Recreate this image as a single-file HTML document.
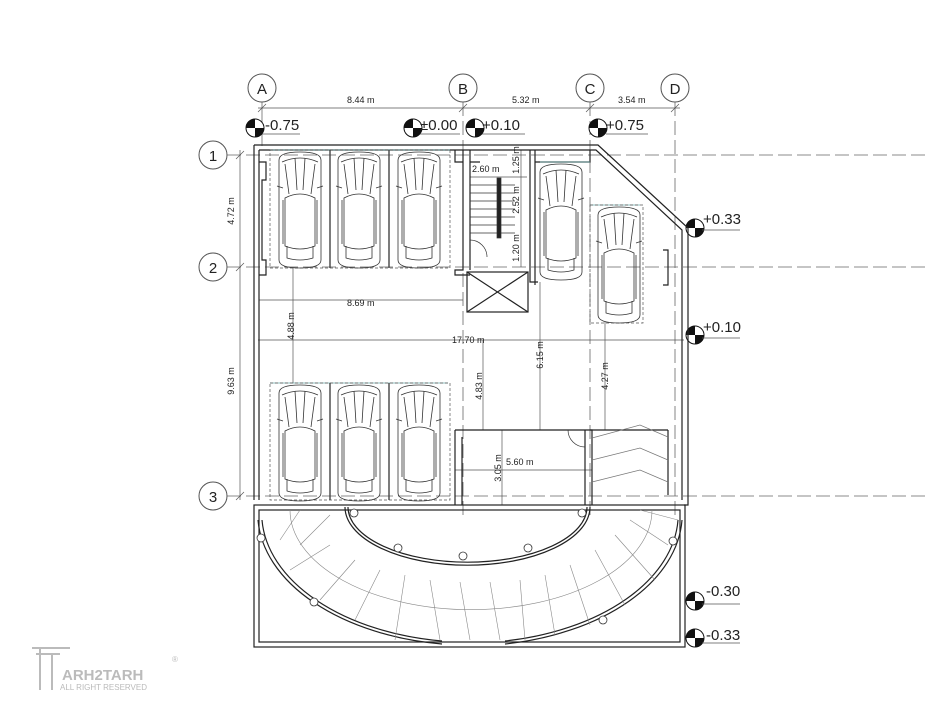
<!DOCTYPE html>
<html><head><meta charset="utf-8"><style>
html,body{margin:0;padding:0;background:#fff}
svg{display:block}
text{font-family:"Liberation Sans",sans-serif;fill:#222}
</style></head><body>
<svg width="932" height="720" viewBox="0 0 932 720" xmlns="http://www.w3.org/2000/svg">
<defs>
<g id="car" fill="none" stroke="#333" stroke-width="0.8">
<path d="M6,10 Q6,2 27,2 Q48,2 48,10 L48,110 Q48,118 27,118 Q6,118 6,110 Z"/>
<path d="M9,12 Q27,4 45,12"/>
<path d="M12,14 L16,44 M42,14 L38,44 M22,8 L24,40 M32,8 L30,40"/>
<path d="M12,48 Q27,40 42,48 L42,96 Q27,102 12,96 Z"/>
<path d="M14,96 L14,108 Q27,112 40,108 L40,96"/>
<path d="M4,36 L10,38 M50,36 L44,38"/>
<path d="M10,50 L10,94 M44,50 L44,94"/>
</g>
<g id="lvl">
<circle r="9" fill="#fff" stroke="#111" stroke-width="1"/>
<path d="M0,0 L0,-9 A9,9 0 0 0 -9,0 Z" fill="#111"/>
<path d="M0,0 L0,9 A9,9 0 0 0 9,0 Z" fill="#111"/>
</g>
</defs>

<!-- grid circles -->
<g fill="#fff" stroke="#555" stroke-width="1">
<circle cx="262" cy="88" r="14"/><circle cx="463" cy="88" r="14"/>
<circle cx="590" cy="88" r="14"/><circle cx="675" cy="88" r="14"/>
<circle cx="213" cy="155" r="14"/><circle cx="213" cy="267" r="14"/><circle cx="213" cy="496" r="14"/>
</g>
<g font-size="15" text-anchor="middle">
<text x="262" y="94">A</text><text x="463" y="94">B</text><text x="590" y="94">C</text><text x="675" y="94">D</text>
<text x="213" y="161">1</text><text x="213" y="273">2</text><text x="213" y="502">3</text>
</g>

<!-- grid lines -->
<g stroke="#666" stroke-width="0.8" stroke-dasharray="14,5" fill="none">
<line x1="227" y1="155" x2="930" y2="155"/>
<line x1="227" y1="267" x2="930" y2="267"/>
<line x1="227" y1="496" x2="930" y2="496"/>
<line x1="463" y1="102" x2="463" y2="520"/>
<line x1="590" y1="102" x2="590" y2="520"/>
<line x1="675" y1="102" x2="675" y2="520"/>
</g>

<!-- top dims -->
<g stroke="#555" stroke-width="0.7" fill="none">
<line x1="258" y1="108" x2="680" y2="108"/>
<line x1="262" y1="102" x2="262" y2="146"/>
<path d="M258,112 L266,104 M459,112 L467,104 M586,112 L594,104 M671,112 L679,104"/>
<line x1="240" y1="150" x2="240" y2="500"/>
<path d="M236,159 L244,151 M236,271 L244,263 M236,500 L244,492"/>
<line x1="258" y1="340" x2="684" y2="340"/>
<line x1="259" y1="300" x2="463" y2="300"/>
<line x1="293" y1="268" x2="293" y2="383"/>
<line x1="483" y1="340" x2="483" y2="430"/>
<line x1="540" y1="282" x2="540" y2="430"/>
<line x1="605" y1="322" x2="605" y2="430"/>
<line x1="502" y1="430" x2="502" y2="505"/>
<line x1="455" y1="470" x2="592" y2="470"/>
<line x1="521" y1="150" x2="521" y2="267"/>
<line x1="470" y1="177" x2="527" y2="177"/>
</g>
<g font-size="9">
<text x="347" y="103">8.44 m</text><text x="512" y="103">5.32 m</text><text x="618" y="103">3.54 m</text>
<text x="347" y="306">8.69 m</text><text x="452" y="343">17.70 m</text>
<text x="506" y="465">5.60 m</text><text x="472" y="172">2.60 m</text>
<g text-anchor="middle">
<text transform="translate(234,211) rotate(-90)">4.72 m</text>
<text transform="translate(234,381) rotate(-90)">9.63 m</text>
<text transform="translate(294,326) rotate(-90)">4.88 m</text>
<text transform="translate(482,386) rotate(-90)">4.83 m</text>
<text transform="translate(543,355) rotate(-90)">6.15 m</text>
<text transform="translate(608,376) rotate(-90)">4.27 m</text>
<text transform="translate(501,468) rotate(-90)">3.05 m</text>
<text transform="translate(519,160) rotate(-90)">1.25 m</text>
<text transform="translate(519,200) rotate(-90)">2.52 m</text>
<text transform="translate(519,248) rotate(-90)">1.20 m</text>
</g></g>

<!-- levels -->
<use href="#lvl" x="255" y="128"/><use href="#lvl" x="413" y="128"/><use href="#lvl" x="475" y="128"/><use href="#lvl" x="598" y="128"/>
<use href="#lvl" x="695" y="228"/><use href="#lvl" x="695" y="335"/><use href="#lvl" x="695" y="601"/><use href="#lvl" x="695" y="638"/>
<g font-size="15">
<text x="265" y="130">-0.75</text><text x="420" y="130">±0.00</text><text x="482" y="130">+0.10</text><text x="606" y="130">+0.75</text>
<text x="703" y="224">+0.33</text><text x="703" y="332">+0.10</text><text x="706" y="596">-0.30</text><text x="706" y="640">-0.33</text>
</g>
<g stroke="#555" stroke-width="0.7">
<line x1="262" y1="134" x2="300" y2="134"/><line x1="420" y1="134" x2="460" y2="134"/><line x1="482" y1="134" x2="525" y2="134"/><line x1="606" y1="134" x2="648" y2="134"/>
<line x1="702" y1="230" x2="740" y2="230"/><line x1="702" y1="338" x2="740" y2="338"/><line x1="702" y1="604" x2="740" y2="604"/><line x1="702" y1="643" x2="740" y2="643"/>
</g>

<!-- walls -->
<g fill="none" stroke="#222" stroke-width="1.2">
<path d="M254,145 L598,145 L688,228 L688,505 L684,505"/>
<path d="M259,150 L596,150 L682,230 L682,500"/>
<line x1="254" y1="145" x2="254" y2="500"/>
<line x1="259" y1="150" x2="259" y2="500"/>
<rect x="254" y="505" width="431" height="142"/>
<rect x="259" y="510" width="421" height="132"/>
<path d="M259,162 L266,162 L266,180 L262,180 L262,260 L266,260 L266,275 L259,275"/>
<path d="M463,150 L463,270 L455,270 L455,275 L470,275 M470,150 L470,270"/>
<path d="M455,150 L455,162 L463,162 M470,162 L480,162"/>
<path d="M530,150 L530,282 L538,282 M535,150 L535,285"/>
<path d="M535,162 L590,162 L590,150"/>
<rect x="467" y="272" width="61" height="40"/>
<path d="M467,272 L528,312 M528,272 L467,312"/>
<path d="M455,430 L592,430 L592,505 M455,430 L455,505 M462,437 L462,505 M585,430 L585,505"/>
<path d="M590,430 L668,430 M668,430 L668,495"/>
<path d="M663,250 L668,250 L668,285 L663,285"/>
</g>
<!-- stairs -->
<g stroke="#333" stroke-width="0.7">
<line x1="470" y1="185" x2="515" y2="185"/><line x1="470" y1="193" x2="515" y2="193"/><line x1="470" y1="201" x2="515" y2="201"/><line x1="470" y1="209" x2="515" y2="209"/><line x1="470" y1="217" x2="515" y2="217"/><line x1="470" y1="225" x2="515" y2="225"/><line x1="470" y1="233" x2="515" y2="233"/>
<rect x="497" y="178" width="4" height="60" fill="#222"/>
<path d="M470,240 A17,17 0 0 1 487,257" fill="none"/>
<path d="M568,430 A17,17 0 0 0 585,447" fill="none"/>
<path d="M592,438 L640,425 L668,437 M592,460 L640,448 L668,460 M592,482 L640,470 L668,482" fill="none" stroke="#777"/>
</g>
<!-- parking bays -->
<g fill="none" stroke="#6aa" stroke-width="0.7">
<line x1="270" y1="150" x2="450" y2="150"/><line x1="270" y1="383" x2="448" y2="383"/><line x1="540" y1="162" x2="590" y2="162"/><line x1="590" y1="205" x2="640" y2="205"/>
</g>
<g fill="none" stroke="#555" stroke-width="0.7" stroke-dasharray="3,2">
<rect x="270" y="150" width="180" height="118"/><rect x="270" y="383" width="180" height="117"/><rect x="590" y="205" width="53" height="118"/>
</g>
<g stroke="#444" stroke-width="1.4"><line x1="330" y1="150" x2="330" y2="268"/><line x1="389" y1="150" x2="389" y2="268"/><line x1="330" y1="383" x2="330" y2="500"/><line x1="389" y1="383" x2="389" y2="500"/></g>
<use href="#car" x="273" y="150"/><use href="#car" x="332" y="150"/><use href="#car" x="392" y="150"/>
<use href="#car" x="273" y="383"/><use href="#car" x="332" y="383"/><use href="#car" x="392" y="383"/>
<use href="#car" x="534" y="162"/><use href="#car" x="592" y="205"/>

<!-- ramp -->
<g fill="none" stroke="#222" stroke-width="1.2">
<path d="M258,520 A213,132 0 0 0 442,644"/>
<path d="M262,520 A209,129 0 0 0 442,641"/>
<path d="M682,520 A213,132 0 0 1 505,644"/>
<path d="M678,520 A209,129 0 0 1 505,641"/>
<path d="M345,507 A122,58 0 0 0 590,507"/>
<path d="M348,507 A119,55 0 0 0 587,507"/>
</g>
<g fill="none" stroke="#888" stroke-width="0.6">
<path d="M290,510 A178,98 0 0 0 652,510"/>
<path d="M300,510 L280,540 M330,515 L300,545 M330,545 L290,570 M355,560 L320,600 M380,570 L355,620 M405,575 L395,640 M430,580 L440,640 M460,582 L470,640 M490,582 L500,640 M520,580 L525,640 M545,575 L555,635 M570,565 L590,625 M595,550 L625,605 M615,535 L655,580 M630,520 L668,545 M640,510 L678,520"/>
</g>
<g fill="#fff" stroke="#333" stroke-width="0.8">
<circle cx="354" cy="513" r="4"/><circle cx="398" cy="548" r="4"/><circle cx="463" cy="556" r="4"/><circle cx="528" cy="548" r="4"/><circle cx="582" cy="513" r="4"/>
<circle cx="261" cy="538" r="4"/><circle cx="314" cy="602" r="4"/><circle cx="603" cy="620" r="4"/><circle cx="673" cy="541" r="4"/>
</g>

<!-- logo -->
<g fill="none" stroke="#bbb" stroke-width="2"><path d="M32,648 L70,648 M40,648 L40,690 M52,655 L52,690 M36,654 L60,654"/></g>
<text x="62" y="680" font-size="15" font-weight="bold" fill="#bbb" style="fill:#bbb">ARH2TARH</text>
<text x="60" y="690" font-size="8" style="fill:#bbb">ALL RIGHT RESERVED</text>
<text x="172" y="662" font-size="8" style="fill:#bbb">®</text>
</svg>
</body></html>
